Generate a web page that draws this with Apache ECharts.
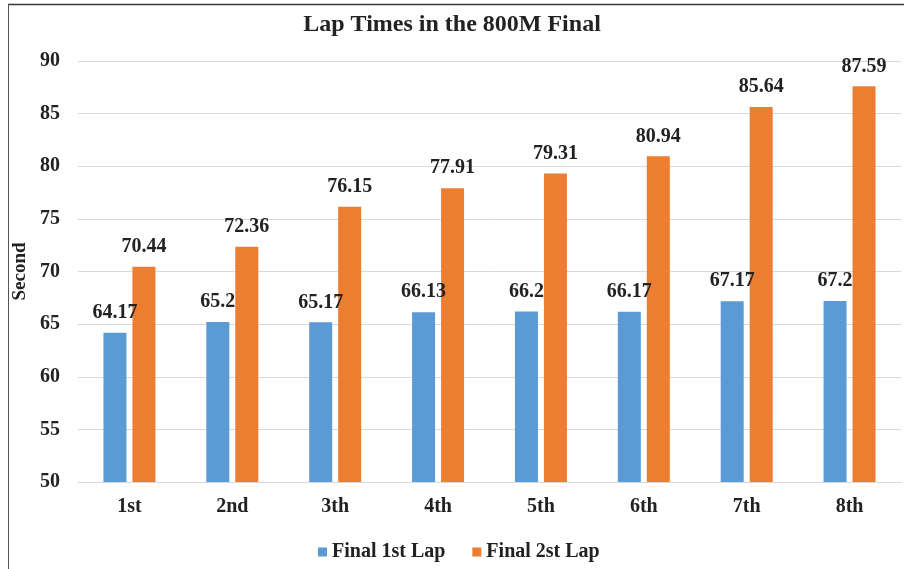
<!DOCTYPE html>
<html>
<head>
<meta charset="utf-8">
<title>Lap Times in the 800M Final</title>
<script src="https://cdn.jsdelivr.net/npm/echarts@6/dist/echarts.min.js"></script>
<style>
  html, body { margin: 0; padding: 0; background: #ffffff; }
  #chart { width: 904px; height: 569px; }
</style>
</head>
<body>
<div id="chart"></div>
<script>
// Finishing positions in the 800M final
const categories = ['1st', '2nd', '3th', '4th', '5th', '6th', '7th', '8th'];
// Seconds taken for each lap
const firstLap = [64.17, 65.2, 65.17, 66.13, 66.2, 66.17, 67.17, 67.2];
const secondLap = [70.44, 72.36, 76.15, 77.91, 79.31, 80.94, 85.64, 87.59];
const seriesNames = ['Final 1st Lap', 'Final 2st Lap'];
const yTicks = { min: 50, max: 90, interval: 5 };

const FONT = '"Liberation Serif", "Times New Roman", serif';
const INK = '#222222';

const chart = echarts.init(document.getElementById('chart'), null, { renderer: 'canvas' });

const labelStyle = {
  show: true,
  position: 'top',
  distance: 10,
  fontFamily: FONT,
  fontWeight: 'bold',
  fontSize: 20,
  color: INK
};

chart.setOption({
  animation: false,
  backgroundColor: '#ffffff',
  title: {
    text: 'Lap Times in the 800M Final',
    left: 'center',
    top: 8,
    textStyle: { fontFamily: FONT, fontWeight: 'bold', fontSize: 24, color: INK }
  },
  legend: {
    left: 313,
    top: 537,
    itemWidth: 9,
    itemHeight: 9,
    itemGap: 27,
    icon: 'rect',
    textStyle: { fontFamily: FONT, fontWeight: 'bold', fontSize: 20, color: INK },
    data: seriesNames
  },
  grid: { left: 78, right: 3, top: 61, bottom: 87, containLabel: false },
  xAxis: {
    type: 'category',
    data: categories,
    axisLine: { show: true, lineStyle: { color: '#d9d9d9', width: 1 } },
    axisTick: { show: false },
    axisLabel: { margin: 15, fontFamily: FONT, fontWeight: 'bold', fontSize: 20, color: INK }
  },
  yAxis: {
    type: 'value',
    min: yTicks.min,
    max: yTicks.max,
    interval: yTicks.interval,
    name: 'Second',
    nameLocation: 'middle',
    nameGap: 46,
    nameTextStyle: { fontFamily: FONT, fontWeight: 'bold', fontSize: 19, color: INK },
    axisLine: { show: false },
    axisTick: { show: false },
    splitLine: { lineStyle: { color: '#d9d9d9', width: 1 } },
    axisLabel: { margin: 18, fontFamily: FONT, fontWeight: 'bold', fontSize: 20, color: INK }
  },
  series: [
    {
      name: seriesNames[0],
      type: 'bar',
      data: firstLap,
      barWidth: 23,
      barGap: '26%',
      itemStyle: { color: '#5B9BD5' },
      label: labelStyle
    },
    {
      name: seriesNames[1],
      type: 'bar',
      data: secondLap,
      barWidth: 23,
      barGap: '26%',
      itemStyle: { color: '#ED7D31' },
      label: labelStyle
    }
  ],
  graphic: [
    {
      type: 'line',
      shape: { x1: 8, y1: 4.5, x2: 904, y2: 4.5 },
      style: { stroke: '#3a3a3a', lineWidth: 1.5 },
      silent: true
    },
    {
      type: 'line',
      shape: { x1: 8.5, y1: 4, x2: 8.5, y2: 569 },
      style: { stroke: '#555555', lineWidth: 1 },
      silent: true
    }
  ]
});
</script>
</body>
</html>
